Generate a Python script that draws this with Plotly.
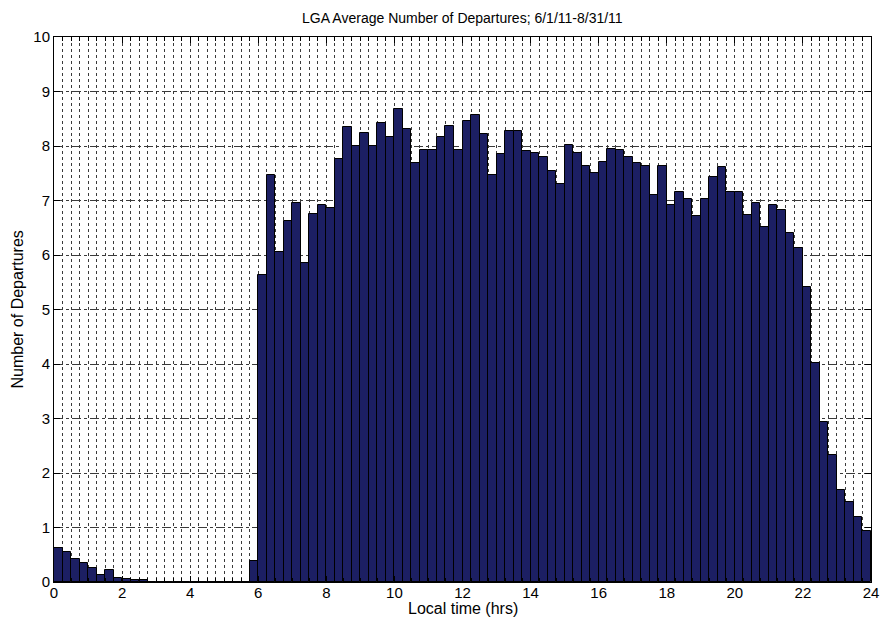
import plotly.graph_objects as go

# Average number of departures per 15-minute bin (96 bins, 0:00-24:00)
departures = [
    0.62, 0.55, 0.42, 0.34, 0.25, 0.13, 0.22, 0.07, 0.05, 0.03, 0.03, 0.0,
    0.0, 0.0, 0.0, 0.0, 0.0, 0.0, 0.0, 0.0, 0.0, 0.0, 0.0, 0.39,
    5.63, 7.47, 6.06, 6.62, 6.95, 5.86, 6.76, 6.91, 6.86, 7.76, 8.35, 8.00,
    8.24, 8.00, 8.42, 8.16, 8.67, 8.32, 7.68, 7.93, 7.93, 8.17, 8.37, 7.93,
    8.46, 8.57, 8.22, 7.47, 7.85, 8.28, 8.28, 7.91, 7.88, 7.80, 7.54, 7.30,
    8.02, 7.87, 7.63, 7.50, 7.71, 7.94, 7.93, 7.80, 7.69, 7.63, 7.10, 7.63,
    6.92, 7.16, 7.02, 6.72, 7.02, 7.44, 7.62, 7.16, 7.16, 6.73, 6.96, 6.52,
    6.92, 6.83, 6.40, 6.12, 5.41, 4.02, 2.94, 2.33, 1.69, 1.47, 1.20, 0.93,
]
bin_hours = 0.25
bin_centers = [(i + 0.5) * bin_hours for i in range(len(departures))]

x_tick_vals = [0, 2, 4, 6, 8, 10, 12, 14, 16, 18, 20, 22, 24]
y_tick_vals = [0, 1, 2, 3, 4, 5, 6, 7, 8, 9, 10]

title_text = "LGA Average Number of Departures; 6/1/11-8/31/11"
x_title = "Local time (hrs)"
y_title = "Number of Departures"

font_family = "Liberation Sans, Arial, Helvetica, sans-serif"

fig = go.Figure(
    go.Bar(
        x=bin_centers,
        y=departures,
        width=bin_hours,
        marker=dict(color="#1c1f63", line=dict(color="#000000", width=1)),
        hoverinfo="x+y",
    )
)

fig.update_layout(
    width=881,
    height=624,
    paper_bgcolor="white",
    plot_bgcolor="white",
    margin=dict(l=54, r=10, t=37, b=42, autoexpand=False),
    bargap=0,
    showlegend=False,
    font=dict(family=font_family, color="#000000"),
    annotations=[
        dict(text=title_text, xref="paper", yref="paper", x=0.5, y=1.0,
             yshift=19, xanchor="center", yanchor="middle", showarrow=False,
             font=dict(size=14, family=font_family)),
        dict(text=x_title, xref="paper", yref="paper", x=0.5, y=0.0,
             yshift=-26, xanchor="center", yanchor="middle", showarrow=False,
             font=dict(size=16, family=font_family)),
        dict(text=y_title, xref="paper", yref="paper", x=0.0, y=0.5,
             xshift=-37, xanchor="center", yanchor="middle", showarrow=False,
             textangle=-90, font=dict(size=16, family=font_family)),
    ],
)

fig.update_xaxes(
    range=[0, 24],
    automargin=False,
    tickmode="array",
    tickvals=x_tick_vals,
    ticks="inside",
    ticklen=6,
    tickcolor="#000000",
    tickfont=dict(size=15),
    ticklabelstandoff=-3,
    ticklabeloverflow="allow",
    showline=True,
    linecolor="#000000",
    linewidth=1,
    mirror="allticks",
    showgrid=True,
    gridcolor="#3a3a3a",
    griddash="dot",
    gridwidth=1,
    minor=dict(
        dtick=bin_hours,
        showgrid=True,
        gridcolor="#3a3a3a",
        griddash="dot",
        gridwidth=1,
        ticks="inside",
        ticklen=4,
        tickcolor="#000000",
    ),
    layer="above traces",
    zeroline=False,
)

fig.update_yaxes(
    range=[0, 10],
    automargin=False,
    tickmode="array",
    tickvals=y_tick_vals,
    ticks="inside",
    ticklen=6,
    tickcolor="#000000",
    tickfont=dict(size=15),
    ticklabeloverflow="allow",
    showline=True,
    linecolor="#000000",
    linewidth=1,
    mirror="allticks",
    showgrid=True,
    gridcolor="#3a3a3a",
    griddash="dashdot",
    gridwidth=1,
    layer="above traces",
    zeroline=False,
)

# Remove the default page margin so the 881x624 figure fills the window exactly.
fig.write_html(
    "out.html",
    config={"displayModeBar": False},
    post_script="document.body.style.margin='0';document.body.style.overflow='hidden';",
)
